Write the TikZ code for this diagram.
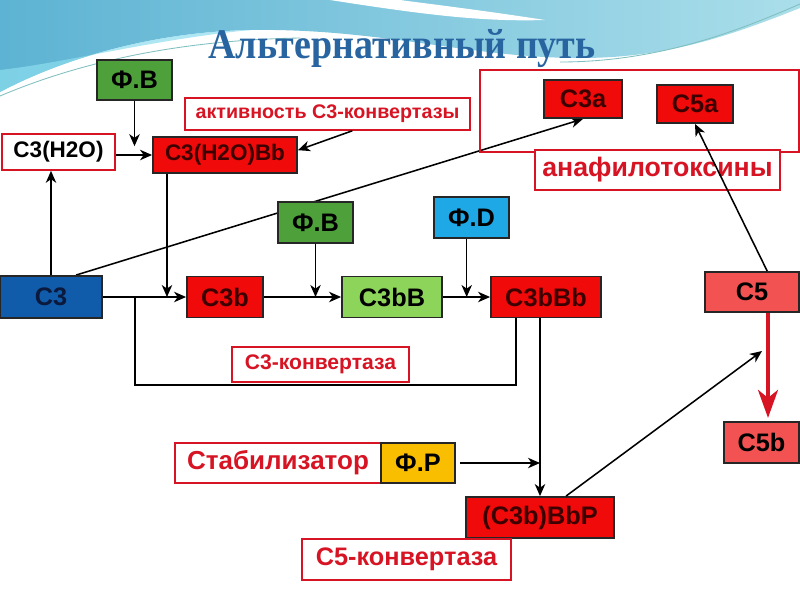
\documentclass[tikz,border=0pt]{standalone}
\usepackage{fontspec}
\setmainfont{Liberation Sans}
\newfontfamily\titlefont[FakeStretch=0.9]{Liberation Serif}
\usetikzlibrary{arrows.meta,calc,backgrounds}

\definecolor{skyL}{RGB}{93,179,211}
\definecolor{skyR}{RGB}{170,222,234}
\definecolor{skyC}{RGB}{140,222,238}
\definecolor{fvgreen}{RGB}{78,160,58}
\definecolor{lgreen}{RGB}{140,212,90}
\definecolor{fdblue}{RGB}{30,168,230}
\definecolor{c3blue}{RGB}{16,92,170}
\definecolor{c3text}{RGB}{10,25,60}
\definecolor{boxred}{RGB}{240,10,10}
\definecolor{boxtext}{RGB}{60,0,0}
\definecolor{salmon}{RGB}{242,82,82}
\definecolor{fporange}{RGB}{250,190,0}
\definecolor{tagred}{RGB}{215,20,35}
\definecolor{titleblue}{RGB}{40,100,160}

\begin{document}
\begin{tikzpicture}[
    x=0.025cm, y=-0.025cm,
    box/.style={draw=black!85, line width=1.3pt, inner sep=0pt, minimum height=1cm, font=\bfseries\fontsize{18}{20}\selectfont},
    redbox/.style={box, fill=boxred, text=boxtext},
    tag/.style={draw=tagred, line width=1.1pt, fill=white, text=tagred, inner sep=0pt, minimum height=1cm, font=\bfseries\fontsize{18}{20}\selectfont},
    arrow/.style={-{Stealth[length=3mm, width=2.6mm, inset=0.9mm]}, line width=1.1pt},
    link/.style={line width=1.3pt},
    bigred/.style={-{Stealth[length=7mm, width=5mm, inset=2mm]}, line width=2.6pt, draw=tagred},
]
\useasboundingbox (0,0) rectangle (800,600);

% ================== Background ==================
\begin{scope}[on background layer]
\fill[white] (0,0) rectangle (800,600);
\shade[left color=skyL, right color=skyR] (0,0) -- (800,0) -- (800,8)
    .. controls (720,40) and (660,58) .. (580,58)
    .. controls (470,58) and (380,28) .. (250,30)
    .. controls (150,32) and (60,60) .. (0,92) -- cycle;
\fill[skyC, opacity=0.7] (0,92) .. controls (60,60) and (150,32) .. (250,30)
    .. controls (150,40) and (70,62) .. (0,70) -- cycle;
\fill[white] (330,0) .. controls (420,14) and (480,22) .. (545,20)
    .. controls (480,10) and (430,4) .. (400,0) -- cycle;
\draw[teal!50, line width=0.6pt] (0,96) .. controls (80,62) and (180,40) .. (300,38);
\draw[teal!50, line width=0.6pt] (560,62) .. controls (660,62) and (740,30) .. (800,4);
\end{scope}

% ================== Title ==================
\node[font=\titlefont\bfseries\fontsize{30}{32}\selectfont, text=titleblue, anchor=base] (title) at (402,58) {Альтернативный путь};

% ================== Top row ==================
\node[box, fill=fvgreen, minimum width=1.875cm] (fvA) at (134.5,80) {Ф.В};
\node[tag, minimum width=7.125cm, minimum height=0.8cm, font=\bfseries\fontsize{14}{16}\selectfont] (act) at (327.5,114) {активность С3-конвертазы};
\node[tag, text=black, minimum width=2.825cm, minimum height=0.9cm, font=\bfseries\fontsize{16}{18}\selectfont] (h2o) at (58.5,152) {С3(Н2О)\hspace{0.2cm}};
\node[redbox, minimum width=3.6cm, minimum height=0.9cm, font=\bfseries\fontsize{16}{18}\selectfont] (h2oBb) at (225,155) {С3(Н2О)Вb};

% ================== Anaphylatoxins ==================
\node[draw=tagred, line width=1pt, minimum width=7.975cm, minimum height=2.05cm] (toxframe) at (639.5,111) {};
\node[redbox, minimum width=1.95cm, minimum height=0.95cm] (c3a) at (583,99) {С3а};
\node[redbox, minimum width=1.9cm, minimum height=0.95cm] (c5a) at (695,104) {С5а};
\node[tag, minimum width=6.125cm, font=\bfseries\fontsize{19}{21}\selectfont] (toxins) at (657.5,170) {анафилотоксины};

% ================== Factors ==================
\node[box, fill=fvgreen, minimum width=1.875cm, minimum height=1.025cm] (fvB) at (315.5,222.5) {Ф.В};
\node[box, fill=fdblue, minimum width=1.875cm, minimum height=1.025cm] (fD) at (471.5,217.5) {Ф.D};

% ================== Main row ==================
\node[box, fill=c3blue, text=c3text, minimum width=2.55cm, minimum height=1.05cm] (c3) at (51,297) {С3};
\node[redbox, minimum width=1.9cm, minimum height=1.025cm] (c3b) at (225,297) {С3b};
\node[box, fill=lgreen, minimum width=2.5cm, minimum height=1.025cm] (c3bB) at (392,297) {С3bВ};
\node[redbox, minimum width=2.75cm, minimum height=1.025cm] (c3bBb) at (546,297) {С3bВb};
\node[box, fill=salmon, minimum width=2.35cm] (c5) at (752,292) {С5};
\node[tag, minimum width=4.425cm, minimum height=0.875cm, font=\bfseries\fontsize{15}{17}\selectfont] (conv3) at (320.5,364.5) {С3-конвертаза};

% ================== Stabilised convertase ==================
\node[tag, minimum width=5.15cm, font=\bfseries\fontsize{18.5}{20}\selectfont] (stab) at (278,463) {Стабилизатор};
\node[box, fill=fporange, minimum width=1.85cm] (fP) at (418,463) {Ф.Р};
\node[box, fill=salmon, minimum width=1.875cm, minimum height=1.025cm] (c5b) at (761.5,442.5) {С5b};
\node[redbox, minimum width=3.7cm, minimum height=1.025cm] (c3bBbP) at (540,517.5) {(С3b)ВbР};
\node[tag, minimum width=5.225cm, minimum height=1.025cm] (conv5) at (406.5,559.5) {С5-конвертаза};

% ================== Connectors ==================
\begin{scope}[on background layer]
\draw[arrow] ([xshift=0.625cm]c3.north) -- (c3a.south);
\end{scope}

\draw[arrow] (c3.north) -- (c3.north |- h2o.south);
\draw[arrow] (h2o.east |- h2oBb.west) -- (h2oBb.west);
\draw[arrow] (fvA.south) -- ([yshift=0.22cm]fvA.south |- h2oBb.west);
\draw[arrow] ([xshift=0.62cm]act.south) -- ([yshift=0.12cm]h2oBb.east);

\draw[arrow] (c3) -- (c3b);
\draw[arrow] (c3b) -- (c3bB);
\draw[arrow] (c3bB) -- (c3bBb);
\draw[arrow] ([xshift=-1.45cm]h2oBb.south) -- ([xshift=-1.45cm]h2oBb.south |- c3b.west);
\draw[arrow] (fvB.south) -- (fvB.south |- c3bB.west);
\draw[arrow] ([xshift=-0.12cm]fD.south) -- ([xshift=-0.12cm]fD.south |- c3bBb.west);

% convertase loop
\coordinate (split) at ($(c3.east)!0.39!(c3b.west)$);
\draw[link] (split) -- ([yshift=-0.06cm]split |- conv3.south) -| ([xshift=-0.75cm]c3bBb.south);

\draw[arrow] (c3bBbP.north |- c3bBb.south) -- (c3bBbP.north);
\draw[arrow] ([xshift=0.1cm]fP.east) -- (fP.east -| c3bBbP.north);

\coordinate (c5in) at (762,351);
\draw[arrow] ([xshift=0.65cm]c3bBbP.north) -- (c5in);
\draw[arrow] ([xshift=0.38cm]c5.north) -- (c5a.south);
\draw[bigred] ([xshift=0.4cm]c5.south) -- ([xshift=0.4cm, yshift=0.08cm]c5.south |- c5b.north);

\end{tikzpicture}
\end{document}
